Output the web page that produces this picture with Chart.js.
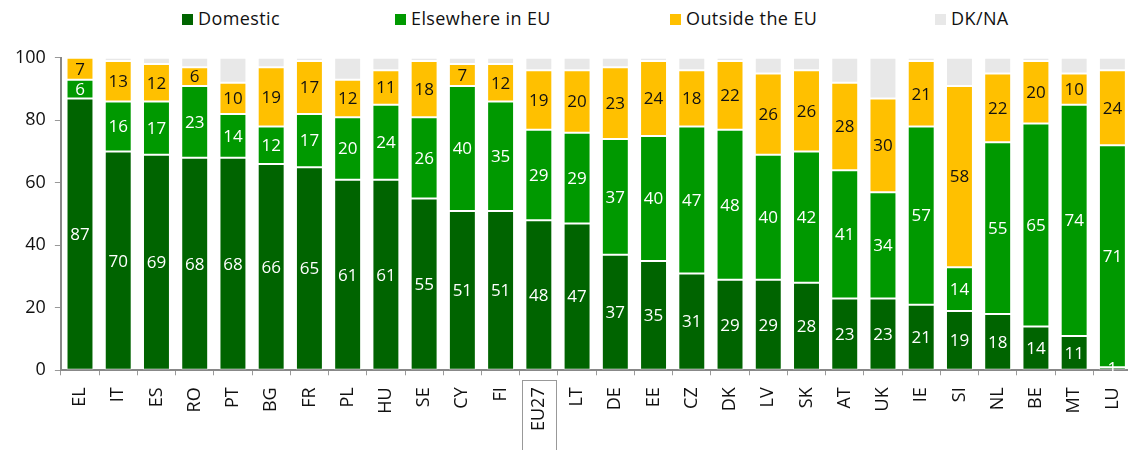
<!DOCTYPE html>
<html>
<head>
<meta charset="utf-8">
<script src="https://cdn.jsdelivr.net/npm/chart.js@4/dist/chart.umd.min.js"></script>
<style>
  html, body { margin: 0; padding: 0; background: #fff; overflow: hidden; }
  #legend { position: relative; width: 1128px; height: 38px; font: 18px 'Open Sans', 'Liberation Sans', sans-serif; letter-spacing: 0.4px; color: #111; }
  #legend span.item { position: absolute; top: 6px; white-space: nowrap; line-height: 24px; }
  #legend span.box { display: inline-block; width: 11px; height: 11px; margin-right: 5px; vertical-align: 0px; }
  #wrap { width: 1146px; height: 412px; position: relative; }
</style>
</head>
<body>
<div id="legend"></div>
<div id="wrap"><canvas id="chart"></canvas></div>
<script>
const countries = ["EL", "IT", "ES", "RO", "PT", "BG", "FR", "PL", "HU", "SE", "CY", "FI", "EU27", "LT", "DE", "EE", "CZ", "DK", "LV", "SK", "AT", "UK", "IE", "SI", "NL", "BE", "MT", "LU"];
const domestic = [87, 70, 69, 68, 68, 66, 65, 61, 61, 55, 51, 51, 48, 47, 37, 35, 31, 29, 29, 28, 23, 23, 21, 19, 18, 14, 11, 1];
const elsewhereEU = [6, 16, 17, 23, 14, 12, 17, 20, 24, 26, 40, 35, 29, 29, 37, 40, 47, 48, 40, 42, 41, 34, 57, 14, 55, 65, 74, 71];
const outsideEU = [7, 13, 12, 6, 10, 19, 17, 12, 11, 18, 7, 12, 19, 20, 23, 24, 18, 22, 26, 26, 28, 30, 21, 58, 22, 20, 10, 24];
const dkna = [0, 1, 2, 3, 8, 3, 1, 7, 4, 1, 2, 2, 4, 4, 3, 1, 4, 1, 5, 4, 8, 13, 1, 9, 5, 1, 5, 4];
const yTicks = [0, 20, 40, 60, 80, 100];

const fontFamily = "'Open Sans', 'Liberation Sans', sans-serif";

const seriesDefs = [
  {label: "Domestic", data: domestic, color: "#006400", valueColor: "#fff", legendX: 182},
  {label: "Elsewhere in EU", data: elsewhereEU, color: "#009900", valueColor: "#fff", legendX: 395},
  {label: "Outside the EU", data: outsideEU, color: "#FFC000", valueColor: "#111", legendX: 670},
  {label: "DK/NA", data: dkna, color: "#E8E8E8", valueColor: null, legendX: 935}
];

// html legend, spread out like the original
const legendEl = document.getElementById("legend");
seriesDefs.forEach(function (s) {
  const item = document.createElement("span");
  item.className = "item";
  item.style.left = s.legendX + "px";
  const box = document.createElement("span");
  box.className = "box";
  box.style.background = s.color;
  item.appendChild(box);
  item.appendChild(document.createTextNode(s.label));
  legendEl.appendChild(item);
});

// value labels in the middle of each segment (not for DK/NA)
const segmentLabels = {
  id: "segmentLabels",
  afterDatasetsDraw(chart) {
    const ctx = chart.ctx;
    ctx.save();
    ctx.font = "17px " + fontFamily;
    ctx.textAlign = "center";
    ctx.textBaseline = "middle";
    chart.data.datasets.forEach(function (ds, i) {
      if (!ds.valueColor) return;
      const meta = chart.getDatasetMeta(i);
      meta.data.forEach(function (bar, j) {
        const v = ds.data[j];
        if (!v) return;
        ctx.fillStyle = ds.valueColor;
        ctx.fillText(String(v), bar.x, (bar.y + bar.base) / 2 + 1);
      });
    });
    ctx.restore();
  }
};

// box round the EU27 tick label
const euBox = {
  id: "euBox",
  afterDraw(chart) {
    const x = chart.scales.x.getPixelForValue(countries.indexOf("EU27"));
    const top = chart.chartArea.bottom + 10;
    const ctx = chart.ctx;
    ctx.save();
    ctx.strokeStyle = "#999";
    ctx.lineWidth = 1;
    ctx.strokeRect(Math.round(x - 17) + 0.5, Math.round(top) + 0.5, 34, 80);
    ctx.restore();
  }
};

new Chart(document.getElementById("chart"), {
  type: "bar",
  data: {
    labels: countries,
    datasets: seriesDefs.map(function (s) {
      return {
        label: s.label, data: s.data, backgroundColor: s.color, valueColor: s.valueColor,
        borderColor: "rgba(255,255,255,0.35)", borderWidth: 1, borderSkipped: false,
        categoryPercentage: 1, barPercentage: 0.705
      };
    })
  },
  options: {
    responsive: true,
    maintainAspectRatio: false,
    animation: false,
    layout: {padding: {top: 7, right: 0, left: 6, bottom: 7}},
    plugins: {
      legend: {display: false},
      tooltip: {enabled: false}
    },
    scales: {
      x: {
        stacked: true,
        grid: {display: true, offset: true, drawOnChartArea: false, tickLength: 5, color: "#999"},
        border: {color: "#888", width: 2},
        ticks: {color: "#111", font: {size: 18, family: fontFamily}, minRotation: 90, maxRotation: 90, padding: 12}
      },
      y: {
        stacked: true,
        min: 0,
        max: 100,
        afterBuildTicks(axis) { axis.ticks = yTicks.map(function (v) { return {value: v}; }); },
        grid: {display: true, drawOnChartArea: false, tickLength: 6, color: "#999"},
        border: {color: "#888", width: 2},
        ticks: {color: "#111", font: {size: 18, family: fontFamily}, padding: 9}
      }
    }
  },
  plugins: [segmentLabels, euBox]
});
</script>
</body>
</html>
